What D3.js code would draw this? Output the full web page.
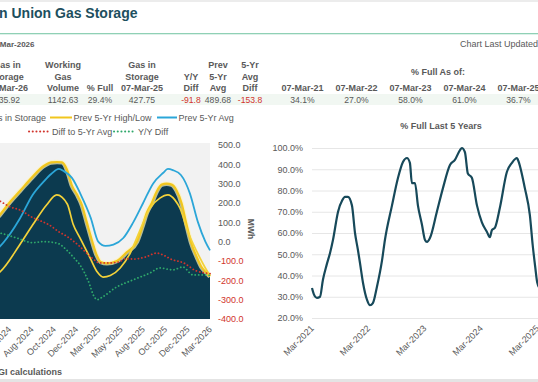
<!DOCTYPE html>
<html><head><meta charset="utf-8">
<script src="https://cdn.jsdelivr.net/npm/d3@7/dist/d3.min.js"></script>
<style>
body{margin:0;background:#fff;overflow:hidden;}
svg{display:block;font-family:"Liberation Sans",Arial,sans-serif;}
</style></head><body>
<svg id="c" width="538" height="382"></svg>
<script>
// ---------------- DATA ----------------
const titleText = "European Union Gas Storage";
const asOfText = "Data as of 07-Mar-2026";
const updatedText = "Chart Last Updated: 09-Mar-2026";
const sourceText = "Source: GIE AGSI+, NGI calculations";

const tableHeaders = [
  ["Gas in","Storage","07-Mar-26"],
  ["Working","Gas","Volume"],
  ["","","% Full"],
  ["Gas in","Storage","07-Mar-25"],
  ["","Y/Y","Diff"],
  ["Prev","5-Yr","Avg"],
  ["5-Yr","Avg","Diff"]
];
const tableValues = [335.92, 1142.63, 29.4, 427.75, -91.8, 489.68, -153.8];
const tableValueKinds = ["num","num","pct","num","num","num","num"];
const pctAsOfTitle = "% Full As of:";
const pctAsOfDates = ["07-Mar-21","07-Mar-22","07-Mar-23","07-Mar-24","07-Mar-25"];
const pctAsOfValues = [34.1, 27.0, 58.0, 61.0, 36.7];

const legendNames = ["Gas in Storage","Prev 5-Yr High/Low","Prev 5-Yr Avg","Diff to 5-Yr Avg","Y/Y Diff"];

// left chart (values read against the MWh axis)
const storageDates = ["2024-03-07","2024-03-30","2024-04-27","2024-05-30","2024-07-01","2024-08-08","2024-09-15","2024-10-10","2024-10-29","2024-11-14","2024-11-30","2024-12-16","2025-01-01","2025-01-17","2025-02-02","2025-02-18","2025-03-06","2025-03-19","2025-04-08","2025-05-10","2025-06-11","2025-07-14","2025-07-30","2025-08-15","2025-08-31","2025-09-16","2025-10-02","2025-10-18","2025-11-03","2025-11-19","2025-12-05","2025-12-21","2026-01-06","2026-01-22","2026-02-07","2026-02-23","2026-03-07"];
const storageVals = [50,92,138,205,262,330,390,410,412,410,372,290,245,190,100,10,-70,-105,-112,-100,-55,0,70,150,200,260,295,300,295,265,200,90,-10,-75,-130,-160,-180];

const avgDates = ["2024-03-07","2024-03-30","2024-04-27","2024-05-30","2024-07-01","2024-08-11","2024-09-18","2024-10-10","2024-11-04","2024-11-20","2024-12-16","2025-01-14","2025-02-15","2025-03-11","2025-04-03","2025-04-29","2025-05-31","2025-07-02","2025-08-03","2025-09-04","2025-10-06","2025-10-22","2025-11-07","2025-12-03","2026-01-01","2026-01-27","2026-02-20","2026-03-07"];
const avgVals = [-75,-50,-25,40,120,242,315,350,376,365,330,242,122,0,-22,-15,19,100,200,300,355,376,370,345,250,101,0,-45];

const lowDates = ["2024-03-07","2024-04-27","2024-06-30","2024-08-11","2024-09-25","2024-10-28","2024-12-01","2024-12-20","2025-01-11","2025-02-13","2025-03-08","2025-03-27","2025-04-19","2025-05-21","2025-06-22","2025-07-24","2025-08-25","2025-09-26","2025-10-22","2025-11-14","2025-11-30","2025-12-26","2026-01-24","2026-02-20","2026-03-07"];
const lowVals = [-190,-157,-17,86,190,242,195,90,19,-85,-157,-183,-175,-136,-60,60,173,225,242,215,173,50,-53,-136,-175];

const diffAvgDates = ["2024-03-07","2024-04-27","2024-05-30","2024-07-01","2024-08-11","2024-09-02","2024-10-04","2024-11-05","2024-11-27","2025-01-07","2025-02-08","2025-03-03","2025-03-13","2025-04-14","2025-05-16","2025-06-08","2025-07-04","2025-08-11","2025-09-16","2025-10-08","2025-11-03","2025-12-12","2026-01-20","2026-03-07"];
const diffAvgVals = [240,210,180,164,125,110,86,50,30,-20,-69,-100,-110,-110,-105,-88,-90,-79,-59,-70,-92,-110,-150,-165];

const yoyDates = ["2024-03-07","2024-04-27","2024-06-21","2024-08-11","2024-09-13","2024-10-28","2024-11-30","2024-12-26","2025-01-11","2025-02-06","2025-02-28","2025-03-08","2025-03-21","2025-05-10","2025-07-01","2025-08-25","2025-09-26","2025-11-07","2025-12-09","2026-01-11","2026-02-25","2026-03-07"];
const yoyVals = [60,45,19,-5,0,-7,-45,-90,-120,-200,-290,-300,-290,-234,-198,-162,-136,-146,-131,-172,-172,-175];

const leftTickDates = ["2024-05-28","2024-08-08","2024-10-19","2024-12-30","2025-03-12","2025-05-23","2025-08-03","2025-10-14","2025-12-25","2026-03-07"];
const leftYTicks = [-400,-300,-200,-100,0,100,200,300,400,500];
const leftYLabel = "MWh";

// right chart
const rightTitle = "% Full Last 5 Years";
const pctDates = ["2021-03-07","2021-03-20","2021-04-08","2021-04-28","2021-05-17","2021-06-10","2021-07-02","2021-07-21","2021-08-23","2021-09-20","2021-10-07","2021-10-26","2021-11-21","2021-12-11","2021-12-30","2022-01-12","2022-02-01","2022-02-27","2022-03-18","2022-04-06","2022-05-02","2022-06-04","2022-06-23","2022-08-08","2022-09-16","2022-10-18","2022-11-13","2022-12-02","2022-12-15","2023-01-04","2023-01-23","2023-02-18","2023-03-10","2023-03-23","2023-04-11","2023-05-26","2023-07-04","2023-08-19","2023-09-20","2023-10-23","2023-11-04","2023-11-24","2023-12-13","2024-01-08","2024-02-10","2024-03-13","2024-04-15","2024-05-04","2024-05-17","2024-06-05","2024-07-08","2024-08-22","2024-09-24","2024-10-26","2024-11-02","2024-12-17","2025-01-18","2025-02-06","2025-02-22","2025-03-07","2025-03-25","2025-06-01","2025-08-01","2025-10-01","2025-11-01","2026-01-01","2026-03-07"];
const pctVals = [34.1,31,29.5,30,38,45,50.6,56.7,70,75.5,77,77,73,60,52,46,36.5,28.5,26,27,34.6,47,56.7,73,86,93.4,95.3,93,83.5,83.5,73,64,56.7,55.8,57.6,70,81,92,94.4,99,100,98,88,86,73,65,60.5,58,61.4,62.4,72,88.7,93,95.3,94.4,81,68.5,54,44,36.7,34,50,70,82,83,60,29.4];
const rightTickDates = ["2021-03-07","2022-03-07","2023-03-07","2024-03-07","2025-03-07","2026-03-07"];
const rightYTicks = [20,30,40,50,60,70,80,90,100];

// ---------------- STYLE / LAYOUT ----------------
const C = {
  text:"#595959", title:"#1d4f5e", red:"#d1342c", area:"#0c3a4f", yellow:"#f1c61e",
  halo:"#fff3b8", blue:"#2ba6d8", green:"#2fa86b", plotBg:"#f2f2f2", line:"#17495a",
  grid:"#e6e6e6", rule:"#8fd0b5"
};
const parse = d3.timeParse("%Y-%m-%d");
const svg = d3.select("#c");
const fmtNum = v => (v<0?"-":"") + Math.abs(v).toFixed(String(v).split(".")[1] ? String(v).split(".")[1].length : 0);

// frame
svg.append("rect").attr("x",0).attr("y",0).attr("width",538).attr("height",2).attr("fill","#ececec");
svg.append("rect").attr("x",0).attr("y",379).attr("width",538).attr("height",3).attr("fill","#e4e4e4");
svg.append("text").attr("x",137.5).attr("y",17.5).attr("text-anchor","end")
  .attr("font-size",14).attr("font-weight","bold").attr("fill",C.title).text(titleText);
svg.append("rect").attr("x",0).attr("y",33).attr("width",538).attr("height",1.3).attr("fill",C.rule);
svg.append("text").attr("x",34.5).attr("y",46.5).attr("text-anchor","end")
  .attr("font-size",8).attr("font-weight","bold").attr("fill",C.text).text(asOfText);
svg.append("text").attr("x",460).attr("y",47).attr("font-size",9).attr("fill",C.text).text(updatedText);

// table
const colX = [7,63,100,142,191,218,250];
const rowY = [68,80,91];
svg.append("rect").attr("x",0).attr("y",94).attr("width",538).attr("height",11).attr("fill","#f1f7f2");
tableHeaders.forEach((h,i)=>{
  h.forEach((t,r)=>{ if(t) svg.append("text").attr("x",colX[i]).attr("y",rowY[r]).attr("text-anchor","middle")
    .attr("font-size",9).attr("font-weight","bold").attr("fill",C.text).text(t); });
  const v = tableValues[i];
  svg.append("text").attr("x",colX[i]).attr("y",102.5).attr("text-anchor","middle").attr("font-size",8.6)
    .attr("fill", v<0?C.red:C.text).text(tableValueKinds[i]==="pct" ? v.toFixed(1)+"%" : fmtNum(v));
});
const pctX = d3.scalePoint().domain(pctAsOfDates).range([302.5,518.5]);
svg.append("text").attr("x",438).attr("y",75).attr("text-anchor","middle").attr("font-size",9)
  .attr("font-weight","bold").attr("fill",C.text).text(pctAsOfTitle);
pctAsOfDates.forEach((d,i)=>{
  svg.append("text").attr("x",pctX(d)).attr("y",91).attr("text-anchor","middle").attr("font-size",9)
    .attr("font-weight","bold").attr("fill",C.text).text(d);
  svg.append("text").attr("x",pctX(d)).attr("y",102.5).attr("text-anchor","middle").attr("font-size",8.6)
    .attr("fill",C.text).text(pctAsOfValues[i].toFixed(1)+"%");
});

// legend
const lg = svg.append("g").attr("font-size",9).attr("fill",C.text);
lg.append("rect").attr("x",-34).attr("y",114).attr("width",18).attr("height",6).attr("fill",C.area);
lg.append("text").attr("x",46).attr("y",120.5).attr("text-anchor","end").text(legendNames[0]);
lg.append("line").attr("x1",50).attr("x2",72).attr("y1",117.5).attr("y2",117.5).attr("stroke",C.yellow).attr("stroke-width",2);
lg.append("text").attr("x",73.5).attr("y",120.5).text(legendNames[1]);
lg.append("line").attr("x1",157).attr("x2",177).attr("y1",117.5).attr("y2",117.5).attr("stroke",C.blue).attr("stroke-width",2);
lg.append("text").attr("x",178.5).attr("y",120.5).text(legendNames[2]);
lg.append("line").attr("x1",29).attr("x2",50).attr("y1",131.5).attr("y2",131.5).attr("stroke",C.red).attr("stroke-width",2)
  .attr("stroke-dasharray","0.1 3.6").attr("stroke-linecap","round");
lg.append("text").attr("x",52).attr("y",134.5).text(legendNames[3]);
lg.append("line").attr("x1",114).attr("x2",136).attr("y1",131.5).attr("y2",131.5).attr("stroke",C.green).attr("stroke-width",2)
  .attr("stroke-dasharray","0.1 3.6").attr("stroke-linecap","round");
lg.append("text").attr("x",138).attr("y",134.5).text(legendNames[4]);

// ---------------- LEFT CHART ----------------
const xL = d3.scaleTime().domain([parse("2024-03-07"), parse("2026-03-07")]).range([-16,210]);
const yL = d3.scaleLinear().domain([-400,500]).range([319,145]);
svg.append("clipPath").attr("id","clipL").append("rect").attr("x",-20).attr("y",143).attr("width",231).attr("height",176);
svg.append("rect").attr("x",-20).attr("y",143).attr("width",230).attr("height",176).attr("fill",C.plotBg);
const pl = svg.append("g").attr("clip-path","url(#clipL)");
const mk = (ds,vs)=> ds.map((d,i)=>({date:parse(d), v:vs[i]}));
const sD = mk(storageDates,storageVals), aD = mk(avgDates,avgVals), lD = mk(lowDates,lowVals),
      rD = mk(diffAvgDates,diffAvgVals), gD = mk(yoyDates,yoyVals);
const line = d3.line().x(d=>xL(d.date)).y(d=>yL(d.v)).curve(d3.curveMonotoneX);
pl.append("path").datum(sD).attr("fill",C.area)
  .attr("d", d3.area().x(d=>xL(d.date)).y0(yL(-400)+2).y1(d=>yL(d.v)).curve(d3.curveMonotoneX));
pl.append("path").datum(sD).attr("d",line).attr("fill","none").attr("stroke",C.halo).attr("stroke-width",4.5).attr("opacity",0.7);
pl.append("path").datum(sD).attr("d",line).attr("fill","none").attr("stroke",C.yellow).attr("stroke-width",2.2);
pl.append("path").datum(lD).attr("d",line).attr("fill","none").attr("stroke","#f3d23a").attr("stroke-width",1.7);
pl.append("path").datum(aD).attr("d",line).attr("fill","none").attr("stroke",C.blue).attr("stroke-width",1.8);
pl.append("path").datum(rD).attr("d",line).attr("fill","none").attr("stroke",C.red).attr("stroke-width",1.8)
  .attr("stroke-dasharray","0.1 3.4").attr("stroke-linecap","round");
pl.append("path").datum(gD).attr("d",line).attr("fill","none").attr("stroke",C.green).attr("stroke-width",1.8)
  .attr("stroke-dasharray","0.1 3.4").attr("stroke-linecap","round");

const yAxL = svg.append("g").attr("transform","translate(216,0)")
  .call(d3.axisRight(yL).tickValues(leftYTicks).tickSize(0).tickPadding(2).tickFormat(d=>d.toFixed(1)));
yAxL.select(".domain").remove();
yAxL.selectAll("text").attr("font-size",9).attr("font-family","Liberation Sans, Arial, sans-serif")
  .attr("fill",d=>d<0?C.red:C.text);
svg.append("text").attr("transform","translate(248,229) rotate(90)").attr("text-anchor","middle")
  .attr("font-size",8.5).attr("font-weight","bold").attr("fill",C.text).text(leftYLabel);

const xAxL = svg.append("g").attr("transform","translate(0,319)")
  .call(d3.axisBottom(xL).tickValues(leftTickDates.map(parse)).tickSize(0).tickFormat(d3.timeFormat("%b-%Y")));
xAxL.select(".domain").remove();
xAxL.selectAll("text").attr("font-size",9).attr("font-family","Liberation Sans, Arial, sans-serif").attr("fill",C.text)
  .attr("y",0).attr("dy",0).attr("text-anchor","end").attr("transform","translate(2,11) rotate(-45)");

// ---------------- RIGHT CHART ----------------
const xR = d3.scaleTime().domain([parse("2021-03-07"), parse("2026-03-07")]).range([312, 312+5*56.3]);
const yR = d3.scaleLinear().domain([20,100]).range([318,148]);
svg.append("text").attr("x",441).attr("y",129).attr("text-anchor","middle").attr("font-size",9)
  .attr("font-weight","bold").attr("fill",C.text).text(rightTitle);
const gy = svg.append("g").attr("transform","translate(312,0)")
  .call(d3.axisLeft(yR).tickValues(rightYTicks).tickSize(-240).tickPadding(9).tickFormat(d=>d.toFixed(1)+"%"));
gy.select(".domain").remove();
gy.selectAll("line").attr("stroke",C.grid);
gy.selectAll("text").attr("font-size",9).attr("font-family","Liberation Sans, Arial, sans-serif").attr("fill",C.text);
const pD = mk(pctDates,pctVals);
svg.append("path").datum(pD).attr("fill","none").attr("stroke",C.line).attr("stroke-width",2.2)
  .attr("stroke-linejoin","round")
  .attr("d", d3.line().x(d=>xR(d.date)).y(d=>yR(d.v)).curve(d3.curveMonotoneX));
const xAxR = svg.append("g").attr("transform","translate(0,318)")
  .call(d3.axisBottom(xR).tickValues(rightTickDates.map(parse)).tickSize(0).tickFormat(d3.timeFormat("%b-%Y")));
xAxR.select(".domain").remove();
xAxR.selectAll("text").attr("font-size",9).attr("font-family","Liberation Sans, Arial, sans-serif").attr("fill",C.text)
  .attr("y",0).attr("dy",0).attr("text-anchor","end").attr("transform","translate(2,11) rotate(-45)");

// source
svg.append("text").attr("x",62).attr("y",374.5).attr("text-anchor","end").attr("font-size",9)
  .attr("font-weight","bold").attr("fill",C.text).text(sourceText);
</script></body></html>
